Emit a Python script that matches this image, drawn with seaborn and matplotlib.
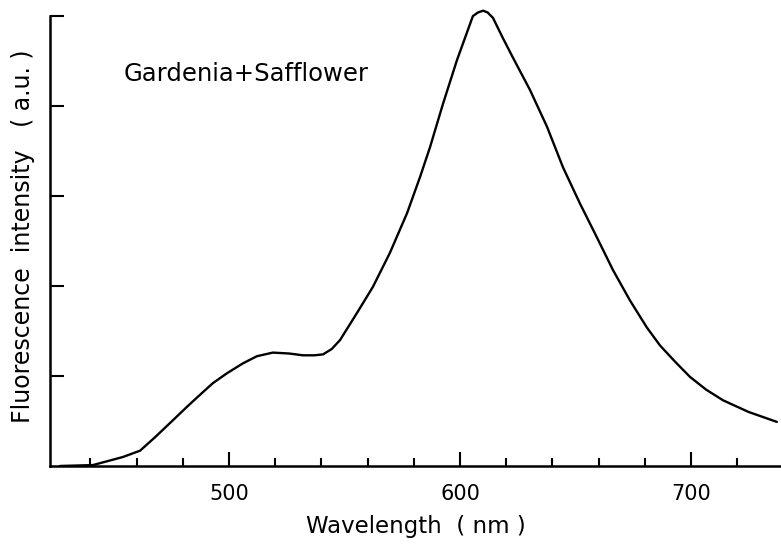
import seaborn as sns
from matplotlib import pyplot as plt
import pandas as pd

# values
wavelength = [426.8, 441.1, 454.1, 461.5, 468.0, 475.8, 481.5, 487.4, 493.0, 499.1,
              506.0, 512.1, 519.0, 526.0, 532.0, 537.0, 540.7, 544.5, 548.1, 555.4,
              562.3, 569.7, 577.1, 582.7, 587.0, 592.6, 598.7, 602.5, 605.6, 607.8,
              610.0, 612.0, 614.3, 618.5, 622.9, 630.3, 637.7, 644.6, 651.9, 659.3,
              666.2, 673.6, 680.9, 686.6, 693.1, 699.6, 706.5, 713.9, 725.0, 737.2]
intensity = [0.00, 0.01, 0.10, 0.17, 0.32, 0.51, 0.65, 0.79, 0.92, 1.03,
             1.14, 1.22, 1.26, 1.25, 1.23, 1.23, 1.24, 1.30, 1.40, 1.70,
             1.99, 2.37, 2.81, 3.21, 3.54, 4.02, 4.51, 4.78, 5.00, 5.04,
             5.06, 5.04, 4.98, 4.76, 4.54, 4.18, 3.77, 3.32, 2.92, 2.54,
             2.18, 1.84, 1.54, 1.34, 1.16, 0.99, 0.85, 0.73, 0.60, 0.49]

minor_ticks = list(range(440, 740, 20))
major_ticks = [500, 600, 700]
y_ticks = [1, 2, 3, 4, 5]

df = pd.DataFrame({"wavelength": wavelength, "intensity": intensity})

sns.set_style("ticks")
plt.rcParams['font.family'] = ['DejaVu Sans']
plt.rcParams['text.color'] = 'black'
plt.rcParams['axes.labelcolor'] = 'black'
plt.rcParams['xtick.color'] = 'black'
plt.rcParams['ytick.color'] = 'black'
plt.rcParams['axes.edgecolor'] = 'black'

fig = plt.figure(figsize=(7.81, 5.45), dpi=100)
ax = fig.add_axes([0.064, 0.145, 0.936, 0.842])

sns.lineplot(data=df, x="wavelength", y="intensity", color="black", linewidth=1.7, ax=ax)

ax.set_xlim(422.5, 739.0)
ax.set_ylim(0, 5.1)

# minor ticks every 20 nm, longer ones at the labelled hundreds
ax.set_xticks(major_ticks)
ax.set_xticklabels([str(t) for t in major_ticks], fontsize=15)
ax.set_xticks([t for t in minor_ticks if t not in major_ticks], minor=True)
ax.tick_params(axis='x', which='major', direction='in', length=10, width=1.5, pad=13)
ax.tick_params(axis='x', which='minor', direction='in', length=6, width=1.5)

ax.set_yticks(y_ticks)
ax.set_yticklabels([])
ax.tick_params(axis='y', which='major', direction='in', length=10, width=1.5)

for side in ['top', 'right']:
    ax.spines[side].set_visible(False)
ax.spines['left'].set_bounds(0, 5)
ax.spines['left'].set_linewidth(1.8)
ax.spines['bottom'].set_linewidth(1.8)

ax.set_xlabel("Wavelength  ( nm )", fontsize=16.5, labelpad=8)
ax.set_ylabel("Fluorescence  intensity   ( a.u. )", fontsize=17, labelpad=7)

ax.text(0.268, 0.855, "Gardenia+Safflower", transform=ax.transAxes,
        fontsize=17.5, ha='center', va='center')

plt.savefig("out.png", dpi=100)
